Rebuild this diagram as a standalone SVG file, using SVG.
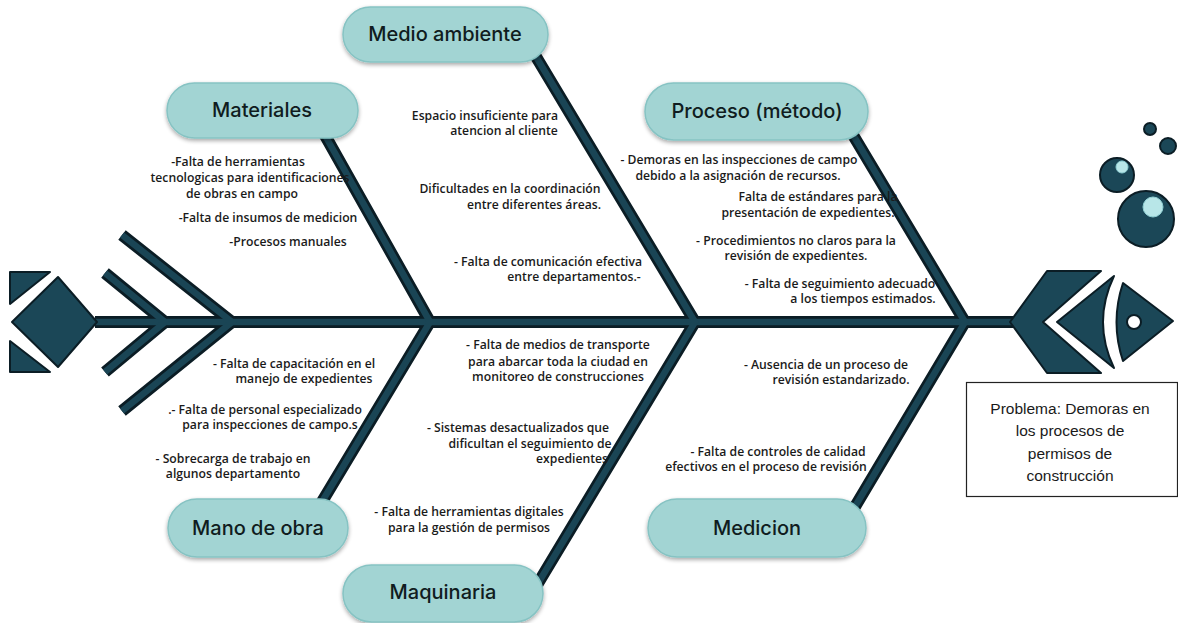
<svg xmlns="http://www.w3.org/2000/svg" xmlns:xlink="http://www.w3.org/1999/xlink" width="1178" height="623" viewBox="0 0 1178 623">
  <defs>
    <style>
      .bone-edge { fill: none; stroke: #0b1d25; stroke-width: 12; stroke-linejoin: miter; stroke-linecap: butt; }
      .bone-core { fill: none; stroke: #1a4555; stroke-width: 6.5; stroke-linejoin: miter; stroke-linecap: butt; }
      .solid { fill: #1b4757; stroke: #0b1d25; stroke-width: 2; stroke-linejoin: round; }
      .pill { fill: #a2d4d3; stroke: #86c3c3; stroke-width: 1.5; filter: url(#shadow); }
      .pill-label { font-family: Inter, "Open Sans", "Liberation Sans", sans-serif; font-size: 20px; font-weight: 500; fill: #101c20; text-anchor: middle; }
      .cause { font-family: "Open Sans", Lato, "Liberation Sans", sans-serif; font-size: 12.2px; font-weight: 600; fill: #1a1a1a; text-anchor: middle; }
      .shine { fill: #b8e6e8; stroke: #8fcfd3; stroke-width: 1; }
      .problem-box { fill: #ffffff; stroke: #222222; stroke-width: 1.2; }
      .problem-text { font-family: "Liberation Sans", Arial, sans-serif; font-size: 15.5px; fill: #1a1a1a; text-anchor: middle; }
    </style>
    <filter id="shadow" x="-10%" y="-20%" width="120%" height="150%">
      <feGaussianBlur in="SourceAlpha" stdDeviation="2"/>
      <feOffset dx="0" dy="2" result="b"/>
      <feComponentTransfer><feFuncA type="linear" slope="0.35"/></feComponentTransfer>
      <feMerge><feMergeNode/><feMergeNode in="SourceGraphic"/></feMerge>
    </filter>
    <!-- skeleton of the fish: spine, tail chevrons and the six ribs -->
    <g id="bones">
      <path d="M95 322 H1015"/>
      <path d="M105 273 L165 322 L105 372"/>
      <path d="M122 235 L232 322 L122 411"/>
      <path d="M322 130 L430 322 L317 510"/>
      <path d="M529 45 L695 322 L534 590"/>
      <path d="M850 130 L965 322 L853 510"/>
    </g>
  </defs>

  <rect x="0" y="0" width="1178" height="623" fill="#ffffff"/>

  <g id="connectors">
    <use xlink:href="#bones" class="bone-edge"/>
    <use xlink:href="#bones" class="bone-core"/>
  </g>

  <g id="tail">
    <polygon class="solid" points="12,322 58,277 97,322 58,367"/>
    <polygon class="solid" points="10,272 50,272 10,304"/>
    <polygon class="solid" points="10,341 10,372 50,372"/>
  </g>

  <g id="head">
    <polygon class="solid" points="1010,322 1047,271 1101,271 1043,322 1101,373 1047,373"/>
    <path class="solid" d="M1057 322 L1114 276 Q1092 322 1114 368 Z"/>
    <path class="solid" d="M1123 283 Q1110 322 1123 361 L1173 321 Z"/>
    <circle cx="1134" cy="322" r="7" fill="#ffffff" stroke="#0b1d25" stroke-width="2"/>
  </g>

  <g id="bubbles">
    <circle class="solid" cx="1150" cy="129" r="6"/>
    <circle class="solid" cx="1168" cy="146" r="8"/>
    <circle class="solid" cx="1117" cy="175" r="17"/>
    <circle class="shine" cx="1122" cy="167" r="6"/>
    <circle class="solid" cx="1146" cy="219" r="28"/>
    <circle class="shine" cx="1153" cy="207" r="10"/>
  </g>

  <g id="materiales">
    <rect class="pill" x="167" y="83" width="191" height="55" rx="27.5"/>
    <text class="pill-label" x="262" y="117">Materiales</text>
  </g>
  <g id="medio-ambiente">
    <rect class="pill" x="343" y="7" width="205" height="55" rx="27.5"/>
    <text class="pill-label" x="445" y="41">Medio ambiente</text>
  </g>
  <g id="proceso">
    <rect class="pill" x="645" y="83" width="223" height="57" rx="28.5"/>
    <text class="pill-label" x="757" y="118">Proceso (método)</text>
  </g>
  <g id="mano-de-obra">
    <rect class="pill" x="168" y="499" width="180" height="58" rx="29"/>
    <text class="pill-label" x="258" y="535">Mano de obra</text>
  </g>
  <g id="maquinaria">
    <rect class="pill" x="343" y="565" width="200" height="57" rx="28.5"/>
    <text class="pill-label" x="443" y="599">Maquinaria</text>
  </g>
  <g id="medicion">
    <rect class="pill" x="648" y="499" width="218" height="58" rx="29"/>
    <text class="pill-label" x="757" y="535">Medicion</text>
  </g>

  <g id="causes-materiales">
    <text class="cause" x="238" y="166">-Falta de herramientas</text>
    <text class="cause" x="250" y="182">tecnologicas para identificaciones</text>
    <text class="cause" x="242" y="198">de obras en campo</text>
    <text class="cause" x="268" y="222">-Falta de insumos de medicion</text>
    <text class="cause" x="288" y="246">-Procesos manuales</text>
  </g>

  <g id="causes-medio-ambiente">
    <text class="cause" x="485" y="120">Espacio insuficiente para</text>
    <text class="cause" x="504" y="135">atencion al cliente</text>
    <text class="cause" x="510" y="193">Dificultades en la coordinación</text>
    <text class="cause" x="534" y="209">entre diferentes áreas.</text>
    <text class="cause" x="548" y="266">- Falta de comunicación efectiva</text>
    <text class="cause" x="574" y="281">entre departamentos.-</text>
  </g>

  <g id="causes-proceso">
    <text class="cause" x="739" y="164">- Demoras en las inspecciones de campo</text>
    <text class="cause" x="738" y="180">debido a la asignación de recursos.</text>
    <text class="cause" x="818" y="201">Falta de estándares para la</text>
    <text class="cause" x="808" y="217">presentación de expedientes.</text>
    <text class="cause" x="796" y="245">- Procedimientos no claros para la</text>
    <text class="cause" x="796" y="260">revisión de expedientes.</text>
    <text class="cause" x="840" y="288">- Falta de seguimiento adecuado</text>
    <text class="cause" x="863" y="303">a los tiempos estimados.</text>
  </g>

  <g id="causes-mano-de-obra">
    <text class="cause" x="294" y="368">- Falta de capacitación en el</text>
    <text class="cause" x="304" y="383">manejo de expedientes</text>
    <text class="cause" x="265" y="414">.- Falta de personal especializado</text>
    <text class="cause" x="270" y="429">para inspecciones de campo.s</text>
    <text class="cause" x="233" y="463">- Sobrecarga de trabajo en</text>
    <text class="cause" x="233" y="478">algunos departamento</text>
  </g>

  <g id="causes-maquinaria">
    <text class="cause" x="558" y="349">- Falta de medios de transporte</text>
    <text class="cause" x="558" y="366">para abarcar toda la ciudad en</text>
    <text class="cause" x="558" y="381">monitoreo de construcciones</text>
    <text class="cause" x="518" y="432">- Sistemas desactualizados que</text>
    <text class="cause" x="530" y="448">dificultan el seguimiento de</text>
    <text class="cause" x="572" y="463">expedientes</text>
    <text class="cause" x="469" y="516">- Falta de herramientas digitales</text>
    <text class="cause" x="469" y="532">para la gestión de permisos</text>
  </g>

  <g id="causes-medicion">
    <text class="cause" x="826" y="369">- Ausencia de un proceso de</text>
    <text class="cause" x="841" y="384">revisión estandarizado.</text>
    <text class="cause" x="778" y="456">- Falta de controles de calidad</text>
    <text class="cause" x="766" y="471">efectivos en el proceso de revisión</text>
  </g>

  <g id="problem">
    <rect class="problem-box" x="966.5" y="382.5" width="211" height="114"/>
    <text class="problem-text" x="1070" y="414">Problema: Demoras en</text>
    <text class="problem-text" x="1070" y="436">los procesos de</text>
    <text class="problem-text" x="1070" y="459">permisos de</text>
    <text class="problem-text" x="1070" y="481">construcción</text>
  </g>
</svg>
